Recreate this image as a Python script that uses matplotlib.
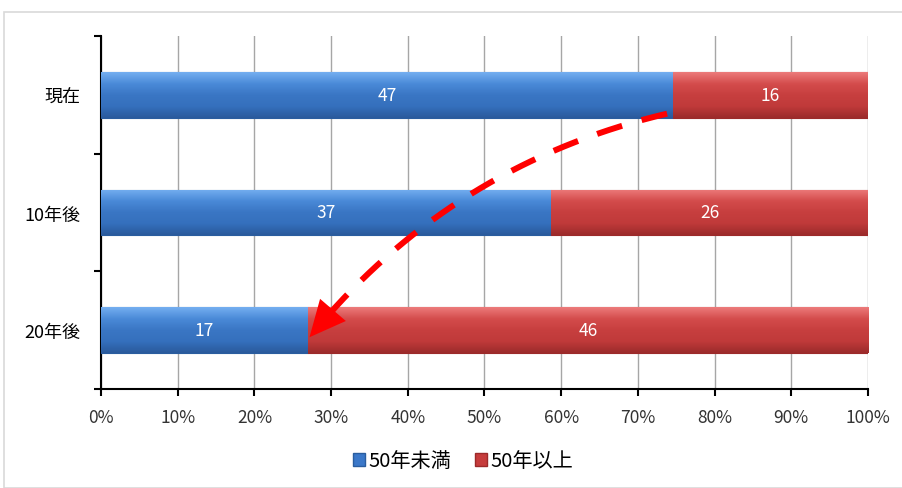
import numpy as np
import matplotlib
matplotlib.use("Agg")
from matplotlib import pyplot as plt
from matplotlib.patches import Rectangle, Polygon
from matplotlib.ticker import FixedLocator, PercentFormatter

plt.rcParams['font.family'] = ['Noto Sans CJK JP', 'DejaVu Sans']

# データ
categories = ['現在', '10年後', '20年後']
under50 = [47, 37, 17]
over50 = [16, 26, 46]
series_names = ['50年未満', '50年以上']
blue = '#3b78c9'
red = '#c63c3c'

under = np.array(under50, dtype=float)
over = np.array(over50, dtype=float)
total = under + over
under_pct = under / total * 100
over_pct = over / total * 100

fig = plt.figure(figsize=(9.03, 4.89), dpi=100)
fig.patches.append(Rectangle((4 / 903, 0), 1, 1 - 13 / 489, transform=fig.transFigure,
                             fill=False, edgecolor='#d9d9d9', linewidth=1.2))
ax = fig.add_axes([101 / 903, 1 - 390 / 489, 767 / 903, 353 / 489])

y = np.arange(len(categories))
h = 0.39
b1 = ax.barh(y, under_pct, height=h, color=blue, edgecolor='#2a5d9f', linewidth=0.8, zorder=3)
b2 = ax.barh(y, over_pct, left=under_pct, height=h, color=red, edgecolor='#9c2a2a', linewidth=0.8, zorder=3)


# 立体っぽいグラデーション
def shade(bars, colors):
    cmap = matplotlib.colors.LinearSegmentedColormap.from_list('g', colors)
    grad = np.linspace(0, 1, 64).reshape(-1, 1)
    for b in bars:
        x0, y0 = b.get_x(), b.get_y()
        im = ax.imshow(grad, cmap=cmap, aspect='auto', zorder=3.5,
                       extent=(x0, x0 + b.get_width(), y0 + b.get_height(), y0))
        im.set_clip_path(b)


shade(b1, ['#74aef0', '#4a8ad8', '#3a76c4', '#3570bd', '#2a5a9c'])
shade(b2, ['#ec7a7a', '#d44c4c', '#c73f3f', '#c03a3a', '#9c2b2b'])

for bars, vals in ((b1, under50), (b2, over50)):
    for b, v in zip(bars, vals):
        ax.text(b.get_x() + b.get_width() / 2, b.get_y() + b.get_height() / 2, str(v),
                color='white', ha='center', va='center', fontsize=12.5, zorder=5)

ax.set_xlim(0, 100)
ax.set_ylim(len(categories) - 0.5, -0.5)
ax.set_xticks(np.arange(0, 101, 10))
ax.xaxis.set_major_formatter(PercentFormatter(decimals=0))
ax.set_yticks(y)
ax.set_yticklabels(categories)
ax.yaxis.set_minor_locator(FixedLocator(np.arange(-0.5, len(categories), 1)))
ax.tick_params(axis='y', which='major', length=0, pad=15, labelsize=13)
ax.tick_params(axis='y', which='minor', length=5, width=1.5, color='black')
ax.tick_params(axis='x', length=5, width=1.5, labelsize=12.5, pad=9, labelcolor='#333333')
ax.grid(axis='x', color='#a6a6a6', linewidth=1, zorder=0)
ax.set_axisbelow(True)
for s in ('top', 'right'):
    ax.spines[s].set_visible(False)
for s in ('left', 'bottom'):
    ax.spines[s].set_linewidth(1.5)

# 矢印（現在の50年未満の端 → 20年後の50年未満の端）を画面座標の2次ベジェで描く
to_disp = ax.transData
to_data = ax.transData.inverted()
p0 = to_disp.transform((under_pct[0] - 0.8, y[0] + 0.16))
p2 = to_disp.transform((under_pct[2] + 0.2, y[2] + 0.06))
chord = p2 - p0
L = np.hypot(*chord)
normal = np.array([chord[1], -chord[0]]) / L
if normal[1] < 0:
    normal = -normal
p1 = (p0 + p2) / 2 + normal * 0.17 * L
t = np.linspace(0, 1, 400)[:, None]
curve = (1 - t) ** 2 * p0 + 2 * (1 - t) * t * p1 + t ** 2 * p2
head_len, head_half = 36, 17
dist = np.hypot(*(curve - p2).T)
shaft = curve[dist > head_len - 4]
shaft_d = to_data.transform(shaft)
ax.plot(shaft_d[:, 0], shaft_d[:, 1], color='#ff0000', linewidth=4.3,
        linestyle=(0, (4.4, 3.4)), solid_capstyle='butt', dash_capstyle='butt', zorder=6)
tip = p2
u = (p2 - curve[dist > head_len][-1])
u = u / np.hypot(*u)
perp = np.array([-u[1], u[0]])
base = tip - u * head_len
head = np.array([tip, base + perp * head_half, base - perp * head_half])
ax.add_patch(Polygon(to_data.transform(head), closed=True, facecolor='#ff0000',
                     edgecolor='none', zorder=6))

handles = [Rectangle((0, 0), 1, 1, facecolor=blue, edgecolor='#2a5d9f'),
           Rectangle((0, 0), 1, 1, facecolor=red, edgecolor='#9c2a2a')]
fig.legend(handles, series_names, loc='center', bbox_to_anchor=(463 / 903, 1 - 462 / 489), ncol=2,
           frameon=False, fontsize=14.5, handlelength=0.6, handleheight=0.6,
           handletextpad=0.15, columnspacing=1.2)

fig.savefig('out.png', dpi=100)
